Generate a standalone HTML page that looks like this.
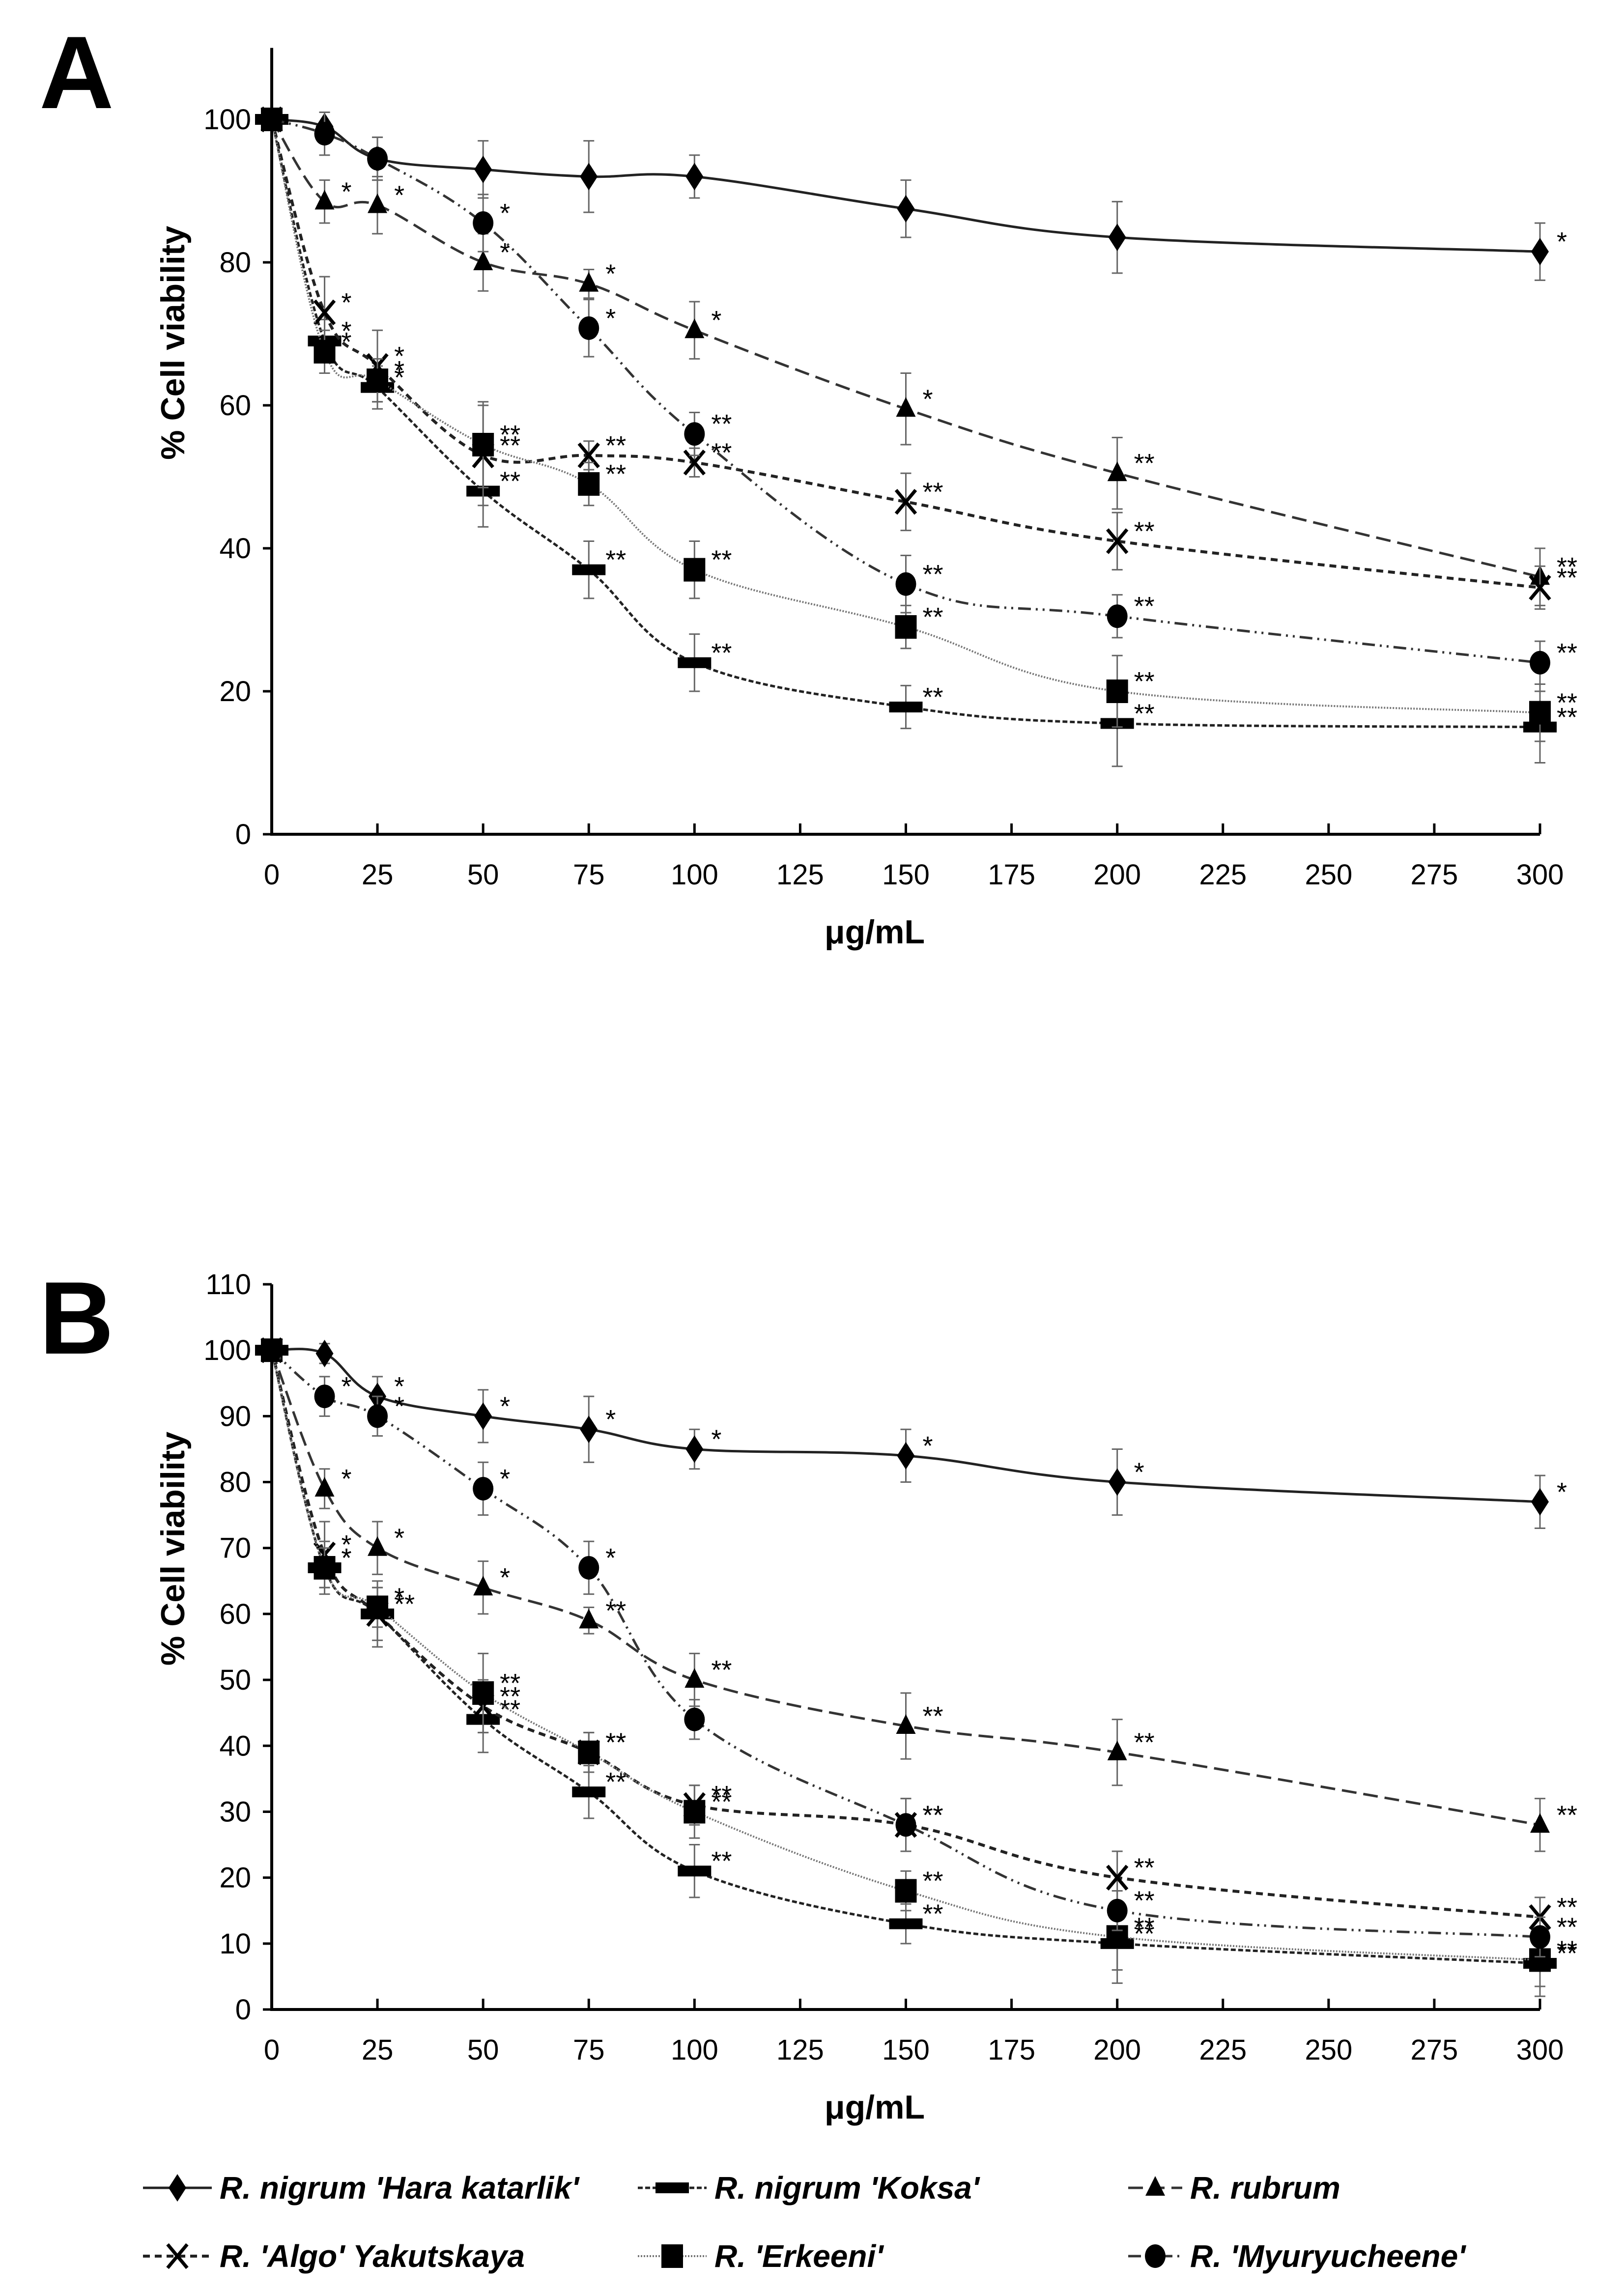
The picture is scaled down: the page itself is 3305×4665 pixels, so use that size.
<!DOCTYPE html>
<html><head><meta charset="utf-8"><style>
html,body{margin:0;padding:0;background:#fff;}
svg{display:block;}
text{font-family:"Liberation Sans Narrow","Liberation Sans",sans-serif;}
</style></head><body>
<svg id="fig" width="3305" height="4665" viewBox="0 0 3305 4665" xmlns="http://www.w3.org/2000/svg">
</svg>
<script>
const doses = [0, 12.5, 25, 50, 75, 100, 150, 200, 300];
const xTicks = [0,25,50,75,100,125,150,175,200,225,250,275,300];
const seriesNames = ["R. nigrum 'Hara katarlik'","R. nigrum 'Koksa'","R. rubrum","R. 'Algo' Yakutskaya","R. 'Erkeeni'","R. 'Myuryucheene'"];
const seriesKeys = ["hara","koksa","rubrum","algo","erkeeni","myury"];
// Panel A
const aHara    = [100, 99, 94.5, 93, 92, 92, 87.5, 83.5, 81.5];
const aKoksa   = [100, 69, 62.5, 48, 37, 24, 17.8, 15.5, 15];
const aRubrum  = [100, 88.5, 88, 80, 77, 70.5, 59.5, 50.5, 36];
const aAlgo    = [100, 73, 65.5, 53, 53, 52, 46.5, 41, 34.5];
const aErkeeni = [100, 67.5, 63.5, 54.5, 49, 37, 29, 20, 17];
const aMyury   = [100, 98, 94.5, 85.5, 70.8, 56, 35, 30.5, 24];
const aHaraErr    = [0, 2, 3, 4, 5, 3, 4, 5, 4];
const aKoksaErr   = [0, 3, 3, 5, 4, 4, 3, 6, 5];
const aRubrumErr  = [0, 3, 4, 4, 2, 4, 5, 5, 4];
const aAlgoErr    = [0, 5, 5, 7, 2, 2, 4, 4, 3];
const aErkeeniErr = [0, 3, 3, 6, 3, 4, 3, 5, 4];
const aMyuryErr   = [0, 3, 3, 4, 4, 3, 4, 3, 3];
// Panel B
const bHara    = [100, 99.5, 93, 90, 88, 85, 84, 80, 77];
const bKoksa   = [100, 67, 60, 44, 33, 21, 13, 10, 7];
const bRubrum  = [100, 79, 70, 64, 59, 50, 43, 39, 28];
const bAlgo    = [100, 69, 60, 46, 39, 31, 28, 20, 14];
const bErkeeni = [100, 67, 61, 48, 39, 30, 18, 11, 7.5];
const bMyury   = [100, 93, 90, 79, 67, 44, 28, 15, 11];
const bHaraErr    = [0, 1.5, 3, 4, 5, 3, 4, 5, 4];
const bKoksaErr   = [0, 4, 4, 5, 4, 4, 3, 6, 5];
const bRubrumErr  = [0, 3, 4, 4, 2, 4, 5, 5, 4];
const bAlgoErr    = [0, 5, 5, 4, 3, 3, 4, 4, 3];
const bErkeeniErr = [0, 3, 3, 6, 3, 4, 3, 5, 4];
const bMyuryErr   = [0, 3, 3, 4, 4, 3, 4, 3, 3];
// significance marks
const aSig = {hara:["","","","","","","","","*"],koksa:["","*","*","**","**","**","**","**","**"],rubrum:["","*","*","*","*","*","*","**","**"],algo:["","*","*","**","**","**","**","**","**"],erkeeni:["","*","*","**","**","**","**","**","**"],myury:["","","","*","*","**","**","**","**"]};
const bSig = {hara:["","","*","*","*","*","*","*","*"],koksa:["","*","**","**","**","**","**","**","**"],rubrum:["","*","*","*","**","**","**","**","**"],algo:["","*","*","**","**","**","**","**","**"],erkeeni:["","*","*","**","**","**","**","**","**"],myury:["","*","*","*","*","","**","**","**"]};

const NS="http://www.w3.org/2000/svg";
const svg=document.getElementById('fig');
function el(tag,attrs,parent){const e=document.createElementNS(NS,tag);for(const k in attrs)e.setAttribute(k,attrs[k]);(parent||svg).appendChild(e);return e;}

const X0=553, X300=3134;
const xScale=v=>X0+(X300-X0)*v/300;

const styles={
 hara:{dash:"none",stroke:"#222",w:5},
 koksa:{dash:"10 5",stroke:"#222",w:5},
 rubrum:{dash:"30 14",stroke:"#333",w:5},
 algo:{dash:"14 10",stroke:"#222",w:6},
 erkeeni:{dash:"3 3",stroke:"#777",w:4},
 myury:{dash:"26 10 4 10 4 10",stroke:"#333",w:5}
};

function smoothPath(pts){
 let d=`M${pts[0][0]},${pts[0][1]}`;
 for(let i=0;i<pts.length-1;i++){
  const p0=pts[Math.max(i-1,0)],p1=pts[i],p2=pts[i+1],p3=pts[Math.min(i+2,pts.length-1)];
  const t=0.18;
  const c1=[p1[0]+(p2[0]-p0[0])*t,p1[1]+(p2[1]-p0[1])*t];
  const c2=[p2[0]-(p3[0]-p1[0])*t,p2[1]-(p3[1]-p1[1])*t];
  d+=` C${c1[0]},${c1[1]} ${c2[0]},${c2[1]} ${p2[0]},${p2[1]}`;
 }
 return d;
}

function marker(key,x,y,g){
 let m;
 if(key==="hara") m=el('path',{d:`M${x},${y-28} L${x+18},${y} L${x},${y+28} L${x-18},${y} Z`,fill:"#000"},g);
 else if(key==="koksa") m=el('rect',{x:x-34,y:y-11,width:68,height:22,fill:"#000"},g);
 else if(key==="rubrum") m=el('path',{d:`M${x},${y-24} L${x+20},${y+16} L${x-20},${y+16} Z`,fill:"#000"},g);
 else if(key==="algo") m=el('path',{d:`M${x-20},${y-24} L${x+20},${y+24} M${x+20},${y-24} L${x-20},${y+24}`,stroke:"#000","stroke-width":7,fill:"none"},g);
 else if(key==="erkeeni") m=el('rect',{x:x-22,y:y-24,width:44,height:48,fill:"#000"},g);
 else m=el('ellipse',{cx:x,cy:y,rx:21,ry:24,fill:"#000"},g);
 
 
}

function panel(id,label,labelY,yMin,yMax,yStep,yTop,yBottom,showTopLabel,data,errs,sig){
 const g=el('g',{});
 
 
 const yScale=v=>yBottom-(yBottom-yTop)*(v-yMin)/(yMax-yMin);
 const lab=el('text',{x:80,y:labelY,"font-size":210,"font-weight":"bold","font-family":"Liberation Sans, sans-serif"},g);
 lab.textContent=label;
 
 
 const yTopAxis=yScale(110);
 const ax=el('path',{d:`M${X0},${yTopAxis} L${X0},${yBottom} L${X300},${yBottom}`,stroke:"#000","stroke-width":6,fill:"none"},g);
 
 
 for(let v=yMin; v<=yMax; v+=yStep){
  if(v===110 && !showTopLabel) continue;
  const y=yScale(v);
  el('line',{x1:X0-18,y1:y,x2:X0,y2:y,stroke:"#000","stroke-width":5},g);
  const t=el('text',{x:X0-42,y:y+20,"font-size":58,"text-anchor":"end"},g);
  t.textContent=v;
  
  
 }
 xTicks.forEach(v=>{
  const x=xScale(v);
  el('line',{x1:x,y1:yBottom-22,x2:x,y2:yBottom,stroke:"#000","stroke-width":5},g);
  const t=el('text',{x:x,y:yBottom+102,"font-size":58,"text-anchor":"middle"},g);
  t.textContent=v;
  
  
 });
 const xt=el('text',{x:1780,y:yBottom+222,"font-size":68,"font-weight":"bold","text-anchor":"middle","font-family":"Liberation Sans, sans-serif"},g);
 xt.textContent="μg/mL";
 
 
 const cy=(yTopAxis+yBottom)/2-200;
 const yt=el('text',{x:0,y:0,"font-size":68,"font-weight":"bold","text-anchor":"middle","font-family":"Liberation Sans, sans-serif",transform:`translate(375,${cy}) rotate(-90)`},g);
 yt.textContent="% Cell viability";
 
 
 seriesKeys.forEach((key,si)=>{
  const sg=el('g',{},g);
  
  
  const vals=data[si], er=errs[si];
  const pts=doses.map((d,i)=>[xScale(d),yScale(vals[i])]);
  doses.forEach((d,i)=>{
   if(!er[i]) return;
   const x=xScale(d), y1=yScale(vals[i]+er[i]), y2=yScale(vals[i]-er[i]);
   el('path',{d:`M${x},${y1} L${x},${y2} M${x-11},${y1} L${x+11},${y1} M${x-11},${y2} L${x+11},${y2}`,stroke:"#666","stroke-width":3,fill:"none"},sg);
  });
  const st=styles[key];
  const p=el('path',{d:smoothPath(pts),stroke:st.stroke,"stroke-width":st.w,fill:"none","stroke-dasharray":st.dash},sg);
  
  
  pts.forEach(pt=>marker(key,pt[0],pt[1],sg));
  doses.forEach((d,i)=>{
   const s=sig[key][i]; if(!s) return;
   const t=el('text',{x:xScale(d)+34,y:yScale(vals[i])-2,"font-size":54,"font-family":"Liberation Sans, sans-serif"},sg);
   t.textContent=s;
   
   
  });
 });
}

panel("a","A",220,0,110,20,1698-110*14.55,1698,false,
 [aHara,aKoksa,aRubrum,aAlgo,aErkeeni,aMyury],
 [aHaraErr,aKoksaErr,aRubrumErr,aAlgoErr,aErkeeniErr,aMyuryErr],aSig);
panel("b","B",2755,0,110,10,2614,4090,true,
 [bHara,bKoksa,bRubrum,bAlgo,bErkeeni,bMyury],
 [bHaraErr,bKoksaErr,bRubrumErr,bAlgoErr,bErkeeniErr,bMyuryErr],bSig);

// legend
const lg=el('g',{});


const legPos=[[291,4453],[1298,4453],[2296,4453],[291,4592],[1298,4592],[2296,4592]];
const legLen=[140,140,110,140,140,110];
seriesKeys.forEach((key,i)=>{
 const [x,y]=legPos[i], L=legLen[i];
 const eg=el('g',{},lg);
 
 
 const st=styles[key];
 el('line',{x1:x,y1:y,x2:x+L,y2:y,stroke:st.stroke,"stroke-width":st.w,"stroke-dasharray":st.dash==="none"?"none":st.dash},eg);
 marker(key,x+L/2,y,eg);
 const t=el('text',{x:x+L+16,y:y+22,"font-size":64,"font-style":"italic","font-weight":"bold"},eg);
 t.textContent=seriesNames[i];
});
</script>
</body></html>
